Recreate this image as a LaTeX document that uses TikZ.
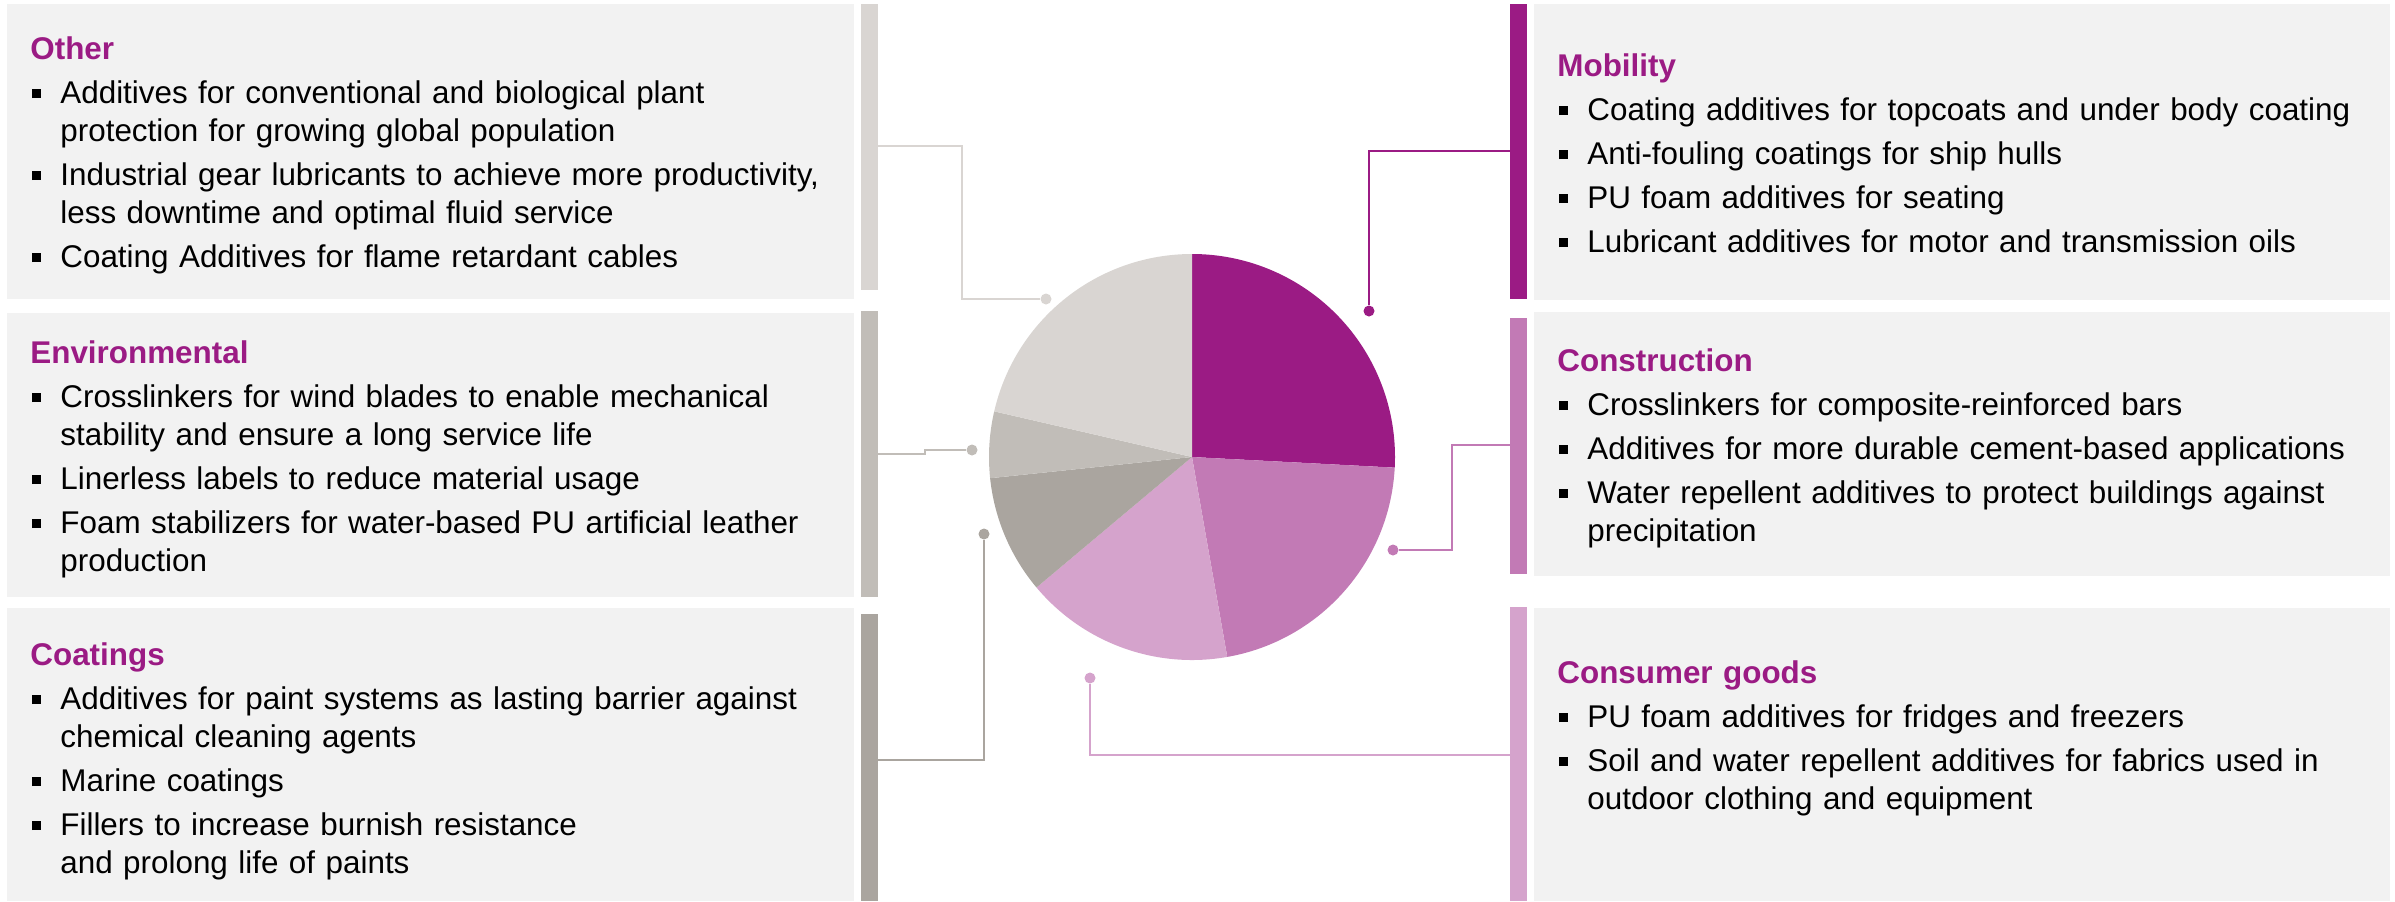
\documentclass[tikz,border=0pt]{standalone}
\usepackage{fontspec}
\setmainfont{Liberation Sans}
\usepackage{xcolor}
\usetikzlibrary{arrows,shapes,positioning}
\usetikzlibrary{arrows.meta}

\definecolor{segPurple}{RGB}{155,27,132}
\definecolor{segPinkMid}{RGB}{194,122,181}
\definecolor{segPinkLight}{RGB}{213,163,204}
\definecolor{segGreyLight}{RGB}{217,213,210}
\definecolor{segGreyMid}{RGB}{193,189,184}
\definecolor{segGreyDark}{RGB}{170,165,159}
\definecolor{panelGrey}{RGB}{242,242,242}

% bullet line, wrapped lines hang under the text
\newcommand{\bitem}[1]{\par\vspace{3pt}\noindent\makebox[15pt][l]{\hspace{1pt}\rule[2.5pt]{4.5pt}{4.5pt}}%
  \parbox[t]{400pt}{\raggedright#1\strut}\par\prevdepth=\dp\strutbox}
\newcommand{\segtitle}[1]{\textbf{\color{segPurple}#1}}

\begin{document}
\begin{tikzpicture}[x=0.5pt,y=0.5pt,yscale=-1,xscale=1,
  segtext/.style={anchor=base west,inner sep=0pt,text width=430pt,align=left,
    font=\fontsize{15.7}{19}\selectfont},
  segdot/.style={circle,inner sep=0pt,minimum size=5.5pt},
  segline/.style={line width=1.2pt}]
\useasboundingbox (0,0) rectangle (2395,901);

%Shape: Rectangle [panels left]
\fill[panelGrey] (7,4) rectangle (854,299) ;
\fill[panelGrey] (7,313) rectangle (854,597) ;
\fill[panelGrey] (7,608) rectangle (854,901) ;
%Shape: Rectangle [panels right]
\fill[panelGrey] (1534,4) rectangle (2390,300) ;
\fill[panelGrey] (1534,312) rectangle (2390,576) ;
\fill[panelGrey] (1534,608) rectangle (2390,901) ;

%Shape: Rectangle [bars left]
\fill[segGreyLight] (861,4) rectangle (878,290) ;
\fill[segGreyMid] (861,311) rectangle (878,597) ;
\fill[segGreyDark] (861,614) rectangle (878,901) ;
%Shape: Rectangle [bars right]
\fill[segPurple] (1510,4) rectangle (1527,299) ;
\fill[segPinkMid] (1510,318) rectangle (1527,574) ;
\fill[segPinkLight] (1510,607) rectangle (1527,901) ;

%Shape: Pie
\coordinate (pieC) at (1192,457) ;
\fill[segPurple] (pieC) -- ++(-90:203) arc[start angle=-90,end angle=3,radius=203] -- cycle ;
\fill[segPinkMid] (pieC) -- ++(3:203) arc[start angle=3,end angle=80,radius=203] -- cycle ;
\fill[segPinkLight] (pieC) -- ++(80:203) arc[start angle=80,end angle=140,radius=203] -- cycle ;
\fill[segGreyDark] (pieC) -- ++(140:203) arc[start angle=140,end angle=174,radius=203] -- cycle ;
\fill[segGreyMid] (pieC) -- ++(174:203) arc[start angle=174,end angle=193,radius=203] -- cycle ;
\fill[segGreyLight] (pieC) -- ++(193:203) arc[start angle=193,end angle=270,radius=203] -- cycle ;

%Dots
\node[segdot,fill=segGreyLight] (otherDot) at (1046,299) {} ;
\node[segdot,fill=segGreyMid] (envDot) at (972,450) {} ;
\node[segdot,fill=segGreyDark] (coatDot) at (984,534) {} ;
\node[segdot,fill=segPurple] (mobDot) at (1369,311) {} ;
\node[segdot,fill=segPinkMid] (consDot) at (1393,550) {} ;
\node[segdot,fill=segPinkLight] (goodsDot) at (1090,678) {} ;

%Connector ends on bars
\coordinate (otherBar) at (878,146) ;
\coordinate (envBar) at (878,454) ;
\coordinate (envKink) at (925,450) ;
\coordinate (coatBar) at (878,760) ;
\coordinate (mobBar) at (1510,151) ;
\coordinate (consBar) at (1510,445) ;
\coordinate (consKink) at (1452,550) ;
\coordinate (goodsBar) at (1510,755) ;

%Straight Lines [connectors]
\draw[segline,segGreyLight] (otherBar) -| (962,299) -- (otherDot) ;
\draw[segline,segGreyMid] (envBar) -| (envKink) -- (envDot) ;
\draw[segline,segGreyDark] (coatBar) -| (coatDot) ;
\draw[segline,segPurple] (mobBar) -| (mobDot) ;
\draw[segline,segPinkMid] (consBar) -| (consKink) -- (consDot) ;
\draw[segline,segPinkLight] (goodsBar) -| (goodsDot) ;

% Text Node
\node[segtext] (otherTxt) at (30,59) {\segtitle{Other}
  \bitem{Additives for conventional and biological plant\\ protection for growing global population}
  \bitem{Industrial gear lubricants to achieve more productivity,\\ less downtime and optimal fluid service}
  \bitem{Coating Additives for flame retardant cables}} ;
% Text Node
\node[segtext] (envTxt) at (30,363) {\segtitle{Environmental}
  \bitem{Crosslinkers for wind blades to enable mechanical\\ stability and ensure a long service life}
  \bitem{Linerless labels to reduce material usage}
  \bitem{Foam stabilizers for water-based PU artificial leather\\ production}} ;
% Text Node
\node[segtext] (coatTxt) at (30,665) {\segtitle{Coatings}
  \bitem{Additives for paint systems as lasting barrier against\\ chemical cleaning agents}
  \bitem{Marine coatings}
  \bitem{Fillers to increase burnish resistance\\ and prolong life of paints}} ;
% Text Node
\node[segtext] (mobTxt) at (1557,76) {\segtitle{Mobility}
  \bitem{Coating additives for topcoats and under body coating}
  \bitem{Anti-fouling coatings for ship hulls}
  \bitem{PU foam additives for seating}
  \bitem{Lubricant additives for motor and transmission oils}} ;
% Text Node
\node[segtext] (consTxt) at (1557,371) {\segtitle{Construction}
  \bitem{Crosslinkers for composite-reinforced bars}
  \bitem{Additives for more durable cement-based applications}
  \bitem{Water repellent additives to protect buildings against\\ precipitation}} ;
% Text Node
\node[segtext] (goodsTxt) at (1557,683) {\segtitle{Consumer goods}
  \bitem{PU foam additives for fridges and freezers}
  \bitem{Soil and water repellent additives for fabrics used in\\ outdoor clothing and equipment}} ;

\end{tikzpicture}
\end{document}
